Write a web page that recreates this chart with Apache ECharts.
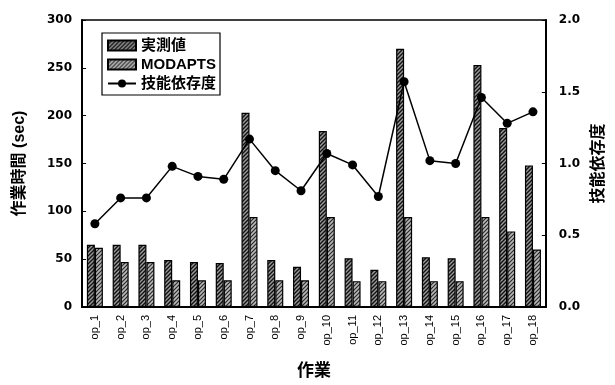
<!DOCTYPE html>
<html>
<head>
<meta charset="utf-8">
<script src="https://cdn.jsdelivr.net/npm/echarts@6/dist/echarts.min.js"></script>
<style>
  html, body { margin: 0; padding: 0; background: #fff; }
  #chart { width: 615px; height: 385px; }
</style>
</head>
<body>
<div id="chart"></div>
<script>
// Task categories
const categories = ['op_1','op_2','op_3','op_4','op_5','op_6','op_7','op_8','op_9',
  'op_10','op_11','op_12','op_13','op_14','op_15','op_16','op_17','op_18'];
// Measured work time (sec)
const measured = [65, 65, 65, 49, 47, 46, 203, 49, 42, 184, 51, 39, 270, 52, 51, 253, 187, 148];
// MODAPTS standard time (sec)
const modapts = [62, 47, 47, 28, 28, 28, 94, 28, 28, 94, 27, 27, 94, 27, 27, 94, 79, 60];
// Skill dependence ratio
const skill = [0.58, 0.76, 0.76, 0.98, 0.91, 0.89, 1.17, 0.95, 0.81, 1.07, 0.99, 0.77,
  1.57, 1.02, 1.00, 1.46, 1.28, 1.36];

const leftTicks = { min: 0, max: 300, interval: 50 };
const rightTicks = { min: 0, max: 2, interval: 0.5 };

const FONT = "'Liberation Sans', 'Noto Sans CJK JP', sans-serif";

// Diagonal hatch fill drawn on a small repeating canvas
function hatch(bg, line, width) {
  const c = document.createElement('canvas');
  c.width = 4; c.height = 4;
  const g = c.getContext('2d');
  g.fillStyle = bg;
  g.fillRect(0, 0, 4, 4);
  g.strokeStyle = line;
  g.lineWidth = width;
  g.beginPath();
  g.moveTo(-1, 1); g.lineTo(1, -1);
  g.moveTo(0, 4); g.lineTo(4, 0);
  g.moveTo(3, 5); g.lineTo(5, 3);
  g.stroke();
  return { image: c, repeat: 'repeat' };
}

const chart = echarts.init(document.getElementById('chart'), null, { renderer: 'canvas' });

chart.setOption({
  animation: false,
  backgroundColor: '#fff',
  textStyle: { fontFamily: FONT },
  grid: {
    left: 82, right: 63, top: 20, bottom: 74,
    show: true, borderColor: '#000', borderWidth: 1.5, backgroundColor: 'transparent'
  },
  legend: {
    orient: 'vertical',
    left: 102, top: 33,
    padding: [5, 4, 4, 5],
    itemWidth: 28, itemHeight: 10, itemGap: 4,
    borderColor: '#000', borderWidth: 1.2,
    backgroundColor: '#fff',
    textStyle: { fontFamily: FONT, fontSize: 15, fontWeight: 'bold', color: '#000' },
    data: [
      { name: '実測値', icon: 'rect' },
      { name: 'MODAPTS', icon: 'rect' },
      { name: '技能依存度' }
    ]
  },
  xAxis: {
    type: 'category',
    data: categories,
    name: '作業',
    nameLocation: 'middle',
    nameGap: 56,
    nameTextStyle: { fontFamily: FONT, fontSize: 17, fontWeight: 'bold', color: '#000' },
    axisLine: { lineStyle: { color: '#000', width: 2 } },
    axisTick: { inside: true, length: 3, lineStyle: { color: '#000' } },
    axisLabel: { rotate: 90, fontSize: 11, color: '#000', margin: 8, fontFamily: FONT, interval: 0 }
  },
  yAxis: [
    {
      type: 'value',
      min: leftTicks.min, max: leftTicks.max, interval: leftTicks.interval,
      name: '作業時間 (sec)',
      nameLocation: 'middle',
      nameRotate: 90,
      nameGap: 54,
      nameTextStyle: { fontFamily: FONT, fontSize: 16, fontWeight: 'bold', color: '#000' },
      axisLine: { show: true, lineStyle: { color: '#000', width: 2 } },
      axisTick: { show: true, inside: true, length: 4, lineStyle: { color: '#000' } },
      splitLine: { show: false },
      axisLabel: { fontFamily: "'DejaVu Sans', sans-serif", fontSize: 12, fontWeight: 'bold', color: '#000', margin: 10 }
    },
    {
      type: 'value',
      position: 'right',
      min: rightTicks.min, max: rightTicks.max, interval: rightTicks.interval,
      name: '技能依存度',
      nameLocation: 'middle',
      nameRotate: 90,
      nameGap: 41,
      nameTextStyle: { fontFamily: FONT, fontSize: 16, fontWeight: 'bold', color: '#000' },
      axisLine: { show: true, lineStyle: { color: '#000', width: 2 } },
      axisTick: { show: true, inside: true, length: 4, lineStyle: { color: '#000' } },
      splitLine: { show: false },
      axisLabel: {
        fontFamily: "'DejaVu Sans', sans-serif", fontSize: 12, fontWeight: 'bold', color: '#000', margin: 13,
        formatter: v => v.toFixed(1)
      }
    }
  ],
  series: [
    {
      name: '実測値',
      type: 'bar',
      yAxisIndex: 0,
      data: measured,
      barWidth: 8,
      barGap: '0%',
      itemStyle: { color: hatch('#9a9a9a', '#111', 1.4), borderColor: '#000', borderWidth: 1.2 }
    },
    {
      name: 'MODAPTS',
      type: 'bar',
      yAxisIndex: 0,
      data: modapts,
      barWidth: 8,
      barGap: '0%',
      itemStyle: { color: hatch('#b8b8b8', '#2a2a2a', 1.2), borderColor: '#000', borderWidth: 1.2 }
    },
    {
      name: '技能依存度',
      type: 'line',
      yAxisIndex: 1,
      data: skill,
      symbol: 'circle',
      symbolSize: 9,
      z: 5,
      lineStyle: { color: '#000', width: 1.5 },
      itemStyle: { color: '#000' }
    }
  ]
});
</script>
</body>
</html>
